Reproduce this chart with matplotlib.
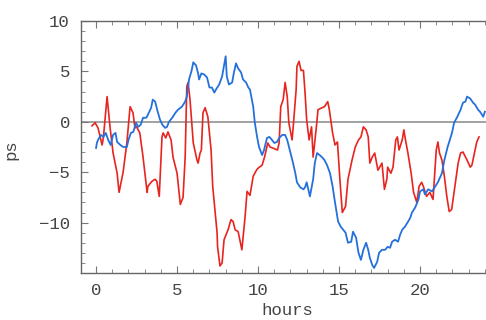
import matplotlib
matplotlib.use("Agg")
import matplotlib.pyplot as plt
from matplotlib.ticker import MultipleLocator

# -----------------------------------
# Datos (horas, ps)
# -----------------------------------
red_t = [-0.25, -0.06, 0.12, 0.37, 0.45, 0.68, 0.86, 1.05, 1.3, 1.42,
         1.67, 1.9, 2.1, 2.28, 2.4, 2.5, 2.7, 2.9, 3.15, 3.2,
         3.45, 3.64, 3.75, 3.9, 4.07, 4.14, 4.3, 4.44, 4.63, 4.75,
         5.0, 5.2, 5.37, 5.5, 5.6, 5.68, 5.8, 6.0, 6.23, 6.3,
         6.42, 6.5, 6.6, 6.73, 6.9, 7.1, 7.2, 7.47, 7.5, 7.65,
         7.78, 7.9, 8.15, 8.33, 8.46, 8.58, 8.77, 9.0, 9.2, 9.32,
         9.5, 9.7, 9.9, 10.0, 10.25, 10.4, 10.6, 10.74, 10.9, 11.2,
         11.3, 11.4, 11.55, 11.67, 11.8, 11.9, 12.1, 12.17, 12.35, 12.4,
         12.53, 12.65, 12.8, 12.9, 13.0, 13.15, 13.3, 13.4, 13.6, 13.7,
         13.95, 14.1, 14.3, 14.4, 14.6, 14.75, 14.9, 15.05, 15.2, 15.4,
         15.55, 15.8, 16.0, 16.2, 16.35, 16.5, 16.67, 16.8, 16.9, 17.05,
         17.2, 17.4, 17.65, 17.8, 17.95, 18.0, 18.2, 18.33, 18.5, 18.6,
         18.7, 18.9, 19.0, 19.1, 19.25, 19.45, 19.6, 19.8, 19.94, 20.1,
         20.2, 20.4, 20.6, 20.8, 21.0, 21.1, 21.2, 21.35, 21.5, 21.65,
         21.8, 21.95, 22.15, 22.35, 22.5, 22.65, 22.9, 23.1, 23.2, 23.4,
         23.5, 23.64]
red_y = [-0.4, -0.1, -0.6, -2.3, -1.6, 2.5, -0.5, -3.1, -5.1, -7.0,
         -5.0, -2.1, 1.5, 0.9, -0.6, -0.5, -1.1, -3.5, -7.0, -6.4,
         -5.9, -5.7, -5.9, -7.4, -1.5, -1.1, -1.6, -1.0, -1.8, -3.5,
         -5.1, -8.2, -7.5, -3.5, 3.5, 3.9, 2.2, -2.1, -3.8, -4.1,
         -3.1, -2.8, 0.9, 1.4, 0.5, -2.8, -6.4, -11.0, -12.4, -14.3,
         -14.0, -11.7, -10.7, -9.7, -9.9, -10.7, -10.9, -12.7, -9.4, -6.9,
         -7.3, -5.4, -4.8, -4.6, -4.3, -3.5, -2.1, -2.5, -2.6, -2.8,
         -2.1, 1.5, 2.2, 3.9, 2.5, -0.1, -1.8, -0.5, 3.2, 5.5,
         6.0, 5.1, 5.1, 2.9, 0.2, -1.8, -0.5, -3.5, -0.5, 1.2,
         1.4, 1.5, 2.0, 1.2, -1.1, -2.3, -2.0, -5.7, -9.0, -8.4,
         -5.7, -3.8, -2.5, -1.8, -1.5, -0.5, -0.8, -1.5, -4.1, -3.5,
         -3.1, -4.8, -4.1, -6.7, -5.7, -4.5, -5.1, -4.5, -1.8, -1.5,
         -2.8, -1.8, -0.8, -1.8, -3.1, -5.1, -7.0, -8.0, -6.4, -6.0,
         -6.4, -7.4, -7.0, -7.7, -2.8, -2.0, -3.1, -3.8, -5.4, -7.4,
         -8.9, -8.7, -6.4, -4.1, -3.1, -3.0, -3.8, -4.5, -4.3, -2.8,
         -2.0, -1.5]

blue_t = [0.0, 0.05, 0.12, 0.3, 0.45, 0.6, 0.75, 0.9, 1.05, 1.2,
          1.3, 1.5, 1.67, 1.9, 2.0, 2.15, 2.3, 2.47, 2.6, 2.75,
          2.9, 3.1, 3.2, 3.4, 3.5, 3.65, 3.77, 3.95, 4.1, 4.26,
          4.38, 4.5, 4.7, 4.9, 5.06, 5.3, 5.5, 5.6, 5.74, 5.9,
          6.0, 6.17, 6.3, 6.36, 6.5, 6.67, 6.85, 7.0, 7.15, 7.3,
          7.4, 7.6, 7.78, 7.9, 8.0, 8.07, 8.2, 8.4, 8.5, 8.64,
          8.77, 8.95, 9.07, 9.26, 9.4, 9.5, 9.7, 9.8, 9.94, 10.06,
          10.25, 10.37, 10.55, 10.7, 10.86, 11.0, 11.17, 11.3, 11.5, 11.67,
          11.8, 12.0, 12.16, 12.3, 12.4, 12.6, 12.8, 12.9, 13.0, 13.2,
          13.4, 13.5, 13.64, 13.8, 14.0, 14.1, 14.26, 14.44, 14.6, 14.75,
          14.94, 15.1, 15.25, 15.4, 15.55, 15.75, 15.86, 16.05, 16.2, 16.35,
          16.5, 16.67, 16.8, 16.9, 17.05, 17.16, 17.35, 17.47, 17.65, 17.84,
          18.0, 18.15, 18.27, 18.46, 18.64, 18.77, 18.9, 19.07, 19.26, 19.4,
          19.5, 19.7, 19.9, 20.0, 20.2, 20.3, 20.5, 20.74, 20.9, 21.1,
          21.35, 21.5, 21.7, 21.97, 22.1, 22.3, 22.5, 22.65, 22.8, 22.9,
          23.1, 23.27, 23.4, 23.58, 23.7, 23.9, 24.0]
blue_y = [-2.6, -2.1, -1.8, -1.3, -1.5, -1.1, -1.8, -2.3, -1.3, -1.1,
          -2.0, -2.3, -2.5, -2.5, -1.8, -1.1, -1.0, -0.1, -0.5, -0.3,
          0.4, 0.4, 0.7, 1.4, 2.2, 2.0, 1.2, 0.2, -0.3, -0.6,
          -0.5, 0.0, 0.4, 0.9, 1.2, 1.5, 2.0, 2.5, 4.2, 5.1,
          5.9, 5.6, 4.8, 4.2, 4.8, 4.7, 4.4, 3.4, 3.4, 2.9,
          3.2, 3.7, 4.5, 5.6, 6.5, 4.5, 3.7, 3.9, 4.8, 5.8,
          5.3, 4.9, 4.2, 3.9, 3.4, 3.2, 1.5, -0.1, -1.5, -2.5,
          -3.3, -2.8, -1.6, -1.5, -1.8, -2.1, -2.0, -1.6, -1.3, -1.3,
          -1.8, -3.1, -4.1, -5.1, -6.0, -6.5, -6.7, -6.5, -6.0, -7.4,
          -5.7, -4.1, -3.1, -3.3, -3.6, -3.8, -4.3, -5.1, -6.4, -8.0,
          -9.9, -10.4, -10.7, -11.0, -12.0, -11.9, -10.9, -11.5, -13.0, -13.7,
          -12.7, -12.0, -12.7, -13.5, -14.2, -14.5, -13.9, -13.0, -12.7, -12.7,
          -12.4, -12.5, -11.9, -11.7, -11.9, -11.2, -10.7, -10.4, -9.9, -9.5,
          -9.0, -8.5, -7.7, -6.9, -6.7, -7.2, -6.7, -6.9, -6.5, -6.0,
          -5.1, -3.8, -2.5, -1.1, -0.1, 0.5, 1.2, 1.9, 2.0, 2.5,
          2.3, 1.9, 1.7, 1.2, 1.0, 0.5, 1.0]

x_ticks = [0, 5, 10, 15, 20]
y_ticks = [-10, -5, 0, 5, 10]

# -----------------------------------
# Figura
# -----------------------------------
plt.rcParams['font.family'] = ['Liberation Mono', 'DejaVu Sans Mono']
fig = plt.figure(figsize=(4.86, 3.2), dpi=100)
ax = fig.add_axes([81 / 486, 47 / 320, 405 / 486, 252 / 320])

ax.axhline(0, color="#9a9a9a", lw=1.3, zorder=1)
ax.plot(red_t, red_y, color="#e8241f", lw=1.2, zorder=2)
ax.plot(blue_t, blue_y, color="#2470dc", lw=1.3, zorder=3)

ax.set_xlim(-0.93, 24.07)
ax.set_ylim(-15, 10)
ax.set_xticks(x_ticks)
ax.set_yticks(y_ticks)
ax.xaxis.set_minor_locator(MultipleLocator(1))
ax.yaxis.set_minor_locator(MultipleLocator(1))

for s in ['left', 'top', 'bottom']:
    ax.spines[s].set_color("#666666")
    ax.spines[s].set_linewidth(1.0)
ax.spines['right'].set_visible(False)

ax.tick_params(which='both', direction='in', top=True, right=False,
               colors="#777777", labelcolor="#444444")
ax.tick_params(which='major', length=5, width=0.8, labelsize=12.5)
ax.tick_params(axis='x', which='major', pad=7)
ax.tick_params(axis='y', which='major', pad=8)
ax.tick_params(which='minor', length=3, width=0.6)

# "hours" va casi al borde inferior, como en el original
ax.set_xlabel("hours", fontsize=12.5, color="#444444")
ax.xaxis.set_label_coords(0.509, -0.118)
ax.set_ylabel("ps", fontsize=12.5, color="#444444")
ax.yaxis.set_label_coords(-0.155, 0.49)

fig.savefig("out.png", dpi=100)
